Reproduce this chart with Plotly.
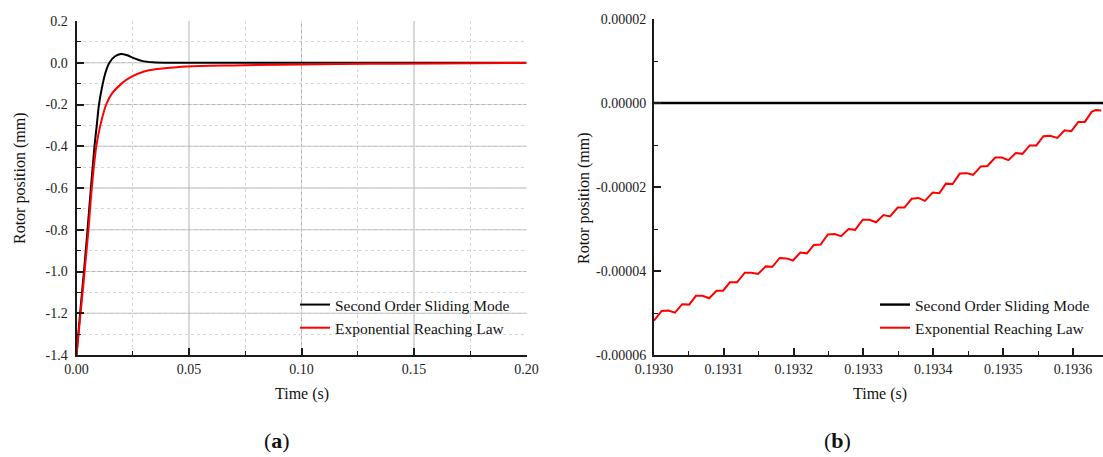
import plotly.graph_objects as go

# ---- panel (a): step response, full time window ----
t_smc = [0.0, 0.0016, 0.0033, 0.0049, 0.0064, 0.0080, 0.0090, 0.0100, 0.0113, 0.0128,
         0.0146, 0.0170, 0.0198, 0.0225, 0.0255, 0.0290, 0.0340, 0.0420, 0.08, 0.14, 0.2]
y_smc = [-1.4, -1.2, -1.0, -0.8, -0.6, -0.4, -0.3, -0.2, -0.12, -0.05,
         0.0, 0.030, 0.042, 0.036, 0.022, 0.009, 0.002, 0.0, 0.0, 0.0, 0.0]

t_exp = [0.0, 0.0018, 0.0036, 0.0053, 0.0068, 0.0088, 0.0106, 0.0132, 0.0158, 0.0200,
         0.0245, 0.0297, 0.0356, 0.0445, 0.0549, 0.0697, 0.0993, 0.13, 0.16, 0.2]
y_exp = [-1.4, -1.2, -1.0, -0.8, -0.6, -0.4, -0.3, -0.2, -0.147, -0.1,
         -0.067, -0.043, -0.03, -0.021, -0.016, -0.013, -0.008, -0.005, -0.003, -0.001]

xa_ticks = [0.0, 0.05, 0.10, 0.15, 0.20]
xa_text = ["0.00", "0.05", "0.10", "0.15", "0.20"]
ya_ticks = [-1.4, -1.2, -1.0, -0.8, -0.6, -0.4, -0.2, 0.0, 0.2]
ya_text = ["-1.4", "-1.2", "-1.0", "-0.8", "-0.6", "-0.4", "-0.2", "0.0", "0.2"]

# ---- panel (b): zoomed steady-state window ----
t_smc_b = [0.1930, 0.193643]
y_smc_b = [0.0, 0.0]

t_exp_b = [0.193000, 0.193011, 0.1930204, 0.193030, 0.1930404, 0.1930504, 0.193060, 0.1930696,
           0.193079, 0.1930896, 0.193099, 0.1931086, 0.193119, 0.193130, 0.1931396, 0.193149,
           0.193160, 0.1931696, 0.193180, 0.1931896, 0.193199, 0.1932096, 0.193219, 0.193229,
           0.1932386, 0.193249, 0.1932586, 0.193268, 0.1932786, 0.193288, 0.193299, 0.1933086,
           0.193318, 0.1933286, 0.193338, 0.193349, 0.1933586, 0.193369, 0.1933786, 0.193388,
           0.193399, 0.1934086, 0.193418, 0.1934276, 0.193438, 0.1934476, 0.193457, 0.193468,
           0.1934776, 0.1934886, 0.193498, 0.1935076, 0.193518, 0.1935276, 0.193538, 0.1935476,
           0.1935576, 0.193567, 0.1935776, 0.193588, 0.1935976, 0.1936076, 0.193617, 0.1936267,
           0.1936324, 0.1936405]
y_exp_b = [-5.18e-5, -4.95e-5, -4.94e-5, -4.99e-5, -4.79e-5, -4.80e-5, -4.59e-5, -4.59e-5,
           -4.65e-5, -4.47e-5, -4.47e-5, -4.27e-5, -4.27e-5, -4.04e-5, -4.04e-5, -4.07e-5,
           -3.89e-5, -3.90e-5, -3.69e-5, -3.70e-5, -3.75e-5, -3.56e-5, -3.58e-5, -3.38e-5,
           -3.37e-5, -3.13e-5, -3.12e-5, -3.17e-5, -3.00e-5, -3.02e-5, -2.78e-5, -2.78e-5,
           -2.84e-5, -2.67e-5, -2.70e-5, -2.49e-5, -2.49e-5, -2.28e-5, -2.26e-5, -2.33e-5,
           -2.13e-5, -2.15e-5, -1.92e-5, -1.93e-5, -1.68e-5, -1.67e-5, -1.71e-5, -1.51e-5,
           -1.50e-5, -1.30e-5, -1.30e-5, -1.36e-5, -1.19e-5, -1.21e-5, -1.01e-5, -1.01e-5,
           -7.9e-6, -7.8e-6, -8.3e-6, -6.5e-6, -6.7e-6, -4.5e-6, -4.5e-6, -2.1e-6,
           -1.7e-6, -1.8e-6]

xb_ticks = [0.1930, 0.1931, 0.1932, 0.1933, 0.1934, 0.1935, 0.1936]
xb_text = ["0.1930", "0.1931", "0.1932", "0.1933", "0.1934", "0.1935", "0.1936"]
yb_ticks = [-0.00006, -0.00004, -0.00002, 0.0, 0.00002]
yb_text = ["-0.00006", "-0.00004", "-0.00002", "0.00000", "0.00002"]

names = ["Second Order Sliding Mode", "Exponential Reaching Law"]
colors = ["#000000", "#ff0000"]

W, H = 1103, 457
FONT = "Liberation Serif"
AX = "#1a1a1a"
GRID = "#b4b4b4"

fig = go.Figure()

fig.add_trace(go.Scatter(x=t_smc, y=y_smc, mode="lines", name=names[0],
                         line=dict(color=colors[0], width=2, shape="spline", smoothing=1.0),
                         xaxis="x", yaxis="y", legend="legend"))
fig.add_trace(go.Scatter(x=t_exp, y=y_exp, mode="lines", name=names[1],
                         line=dict(color=colors[1], width=2, shape="spline", smoothing=1.0),
                         xaxis="x", yaxis="y", legend="legend"))
fig.add_trace(go.Scatter(x=t_smc_b, y=y_smc_b, mode="lines", name=names[0],
                         line=dict(color=colors[0], width=2.4),
                         xaxis="x2", yaxis="y2", legend="legend2"))
fig.add_trace(go.Scatter(x=t_exp_b, y=y_exp_b, mode="lines", name=names[1],
                         line=dict(color=colors[1], width=2),
                         xaxis="x2", yaxis="y2", legend="legend2"))

tickfont = dict(family=FONT, size=14, color="#222")
axis_common = dict(showline=True, linewidth=2, linecolor=AX, ticks="inside",
                   ticklen=7, tickwidth=1.5, tickcolor=AX, tickfont=tickfont,
                   zeroline=False, tickmode="array", fixedrange=True,
                   automargin=False, showgrid=False)
minor_dot = dict(ticks="inside", ticklen=4, tickcolor=AX, tickwidth=1.2,
                 showgrid=True, gridcolor="#d6d6d6", griddash="dot", gridwidth=1)
minor_plain = dict(ticks="inside", ticklen=4, tickcolor=AX, tickwidth=1.2, showgrid=False)

legend_font = dict(family=FONT, size=15.5, color="#111")

fig.update_layout(
    width=W, height=H, autosize=False,
    margin=dict(l=0, r=0, t=0, b=0, pad=0, autoexpand=False),
    paper_bgcolor="white", plot_bgcolor="white",
    showlegend=True,
    xaxis=dict(domain=[76.5 / W, 526.5 / W], range=[0.0, 0.2], anchor="y",
               tickvals=xa_ticks, ticktext=xa_text,
               minor=dict(dtick=0.025, tick0=0.0, **minor_dot), **axis_common),
    yaxis=dict(domain=[1 - 355 / H, 1 - 21 / H], range=[-1.4, 0.2], anchor="x",
               tickvals=ya_ticks, ticktext=ya_text, ticklabelstandoff=4,
               minor=dict(dtick=0.1, tick0=0.0, **minor_dot), **axis_common),
    xaxis2=dict(domain=[654 / W, 1.0], range=[0.1930, 0.193643], anchor="y2",
                tickvals=xb_ticks, ticktext=xb_text,
                minor=dict(dtick=0.00005, tick0=0.1930, **minor_plain), **axis_common),
    yaxis2=dict(domain=[1 - 355 / H, 1 - 19 / H], range=[-0.00006, 0.00002], anchor="x2",
                tickvals=yb_ticks, ticktext=yb_text, ticklabelstandoff=3,
                minor=dict(dtick=0.00001, tick0=0.0, **minor_plain), **axis_common),
    legend=dict(x=295 / W, y=1 - 288 / H, xanchor="left", yanchor="top",
                bgcolor="rgba(0,0,0,0)", font=legend_font,
                tracegroupgap=0, itemclick=False),
    legend2=dict(x=875 / W, y=1 - 288 / H, xanchor="left", yanchor="top",
                 bgcolor="rgba(0,0,0,0)", font=legend_font,
                 tracegroupgap=0, itemclick=False),
)

# solid major gridlines of panel (a), at interior major ticks only
for v in xa_ticks[1:-1]:
    fig.add_shape(type="line", xref="x", yref="y domain", x0=v, x1=v, y0=0, y1=1,
                  line=dict(color=GRID, width=1), layer="below")
for v in ya_ticks[1:-1]:
    fig.add_shape(type="line", xref="x domain", yref="y", x0=0, x1=1, y0=v, y1=v,
                  line=dict(color=GRID, width=1), layer="below")

label_font = dict(family=FONT, size=16, color="#111")
annotations = [
    dict(text="Rotor position (mm)", x=20 / W, y=1 - 178 / H, textangle=-90),
    dict(text="Rotor position (mm)", x=584 / W, y=1 - 198 / H, textangle=-90),
    dict(text="Time (s)", x=301.5 / W, y=1 - 394 / H),
    dict(text="Time (s)", x=880 / W, y=1 - 394 / H),
]
for a in annotations:
    fig.add_annotation(xref="paper", yref="paper", xanchor="center", yanchor="middle",
                       showarrow=False, font=label_font, **a)

for txt, xc in [("(<b>a</b>)", 277), ("(<b>b</b>)", 837)]:
    fig.add_annotation(text=txt, xref="paper", yref="paper", x=xc / W, y=1 - 440 / H,
                       xanchor="center", yanchor="middle", showarrow=False,
                       font=dict(family=FONT, size=22, color="#111"))

fig.write_html("out.html")
